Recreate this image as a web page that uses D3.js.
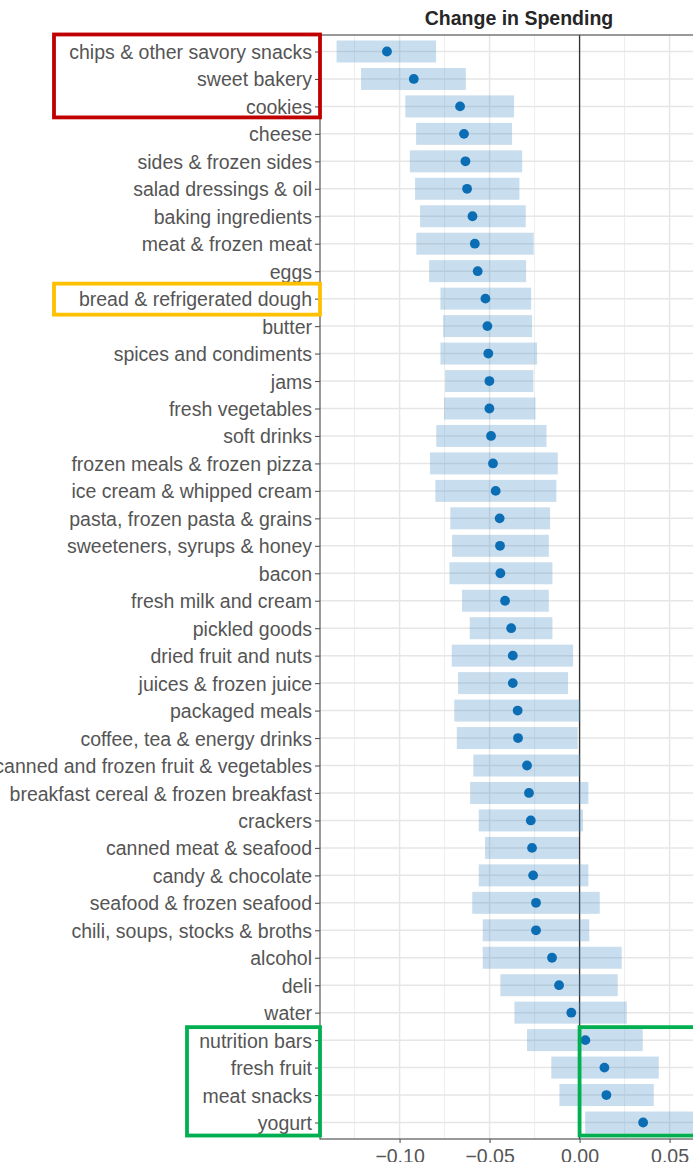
<!DOCTYPE html>
<html>
<head>
<meta charset="utf-8">
<script src="https://cdn.jsdelivr.net/npm/d3@7"></script>
<style>
  html, body { margin: 0; padding: 0; background: #fff; }
  svg { display: block; }
</style>
</head>
<body>
<svg id="chart" width="693" height="1162"></svg>
<script>
const categories = [
  "chips & other savory snacks", "sweet bakery", "cookies", "cheese",
  "sides & frozen sides", "salad dressings & oil", "baking ingredients",
  "meat & frozen meat", "eggs", "bread & refrigerated dough", "butter",
  "spices and condiments", "jams", "fresh vegetables", "soft drinks",
  "frozen meals & frozen pizza", "ice cream & whipped cream",
  "pasta, frozen pasta & grains", "sweeteners, syrups & honey", "bacon",
  "fresh milk and cream", "pickled goods", "dried fruit and nuts",
  "juices & frozen juice", "packaged meals", "coffee, tea & energy drinks",
  "canned and frozen fruit & vegetables", "breakfast cereal & frozen breakfast",
  "crackers", "canned meat & seafood", "candy & chocolate",
  "seafood & frozen seafood", "chili, soups, stocks & broths", "alcohol",
  "deli", "water", "nutrition bars", "fresh fruit", "meat snacks", "yogurt"
];
const estimate = [
  -0.107, -0.0921, -0.0664, -0.0642, -0.0634, -0.0625, -0.0595, -0.0582,
  -0.0566, -0.0523, -0.0512, -0.0507, -0.0501, -0.0501, -0.0492, -0.0481,
  -0.0466, -0.0444, -0.0442, -0.0440, -0.0414, -0.0380, -0.0371, -0.0371,
  -0.0344, -0.0342, -0.0292, -0.0281, -0.0271, -0.0264, -0.0258, -0.0242,
  -0.0242, -0.0153, -0.0114, -0.0046, 0.0032, 0.0138, 0.0149, 0.0353
];
const lower = [
  -0.135, -0.1214, -0.0968, -0.0908, -0.0943, -0.0914, -0.0886, -0.0907,
  -0.0836, -0.0773, -0.0758, -0.0773, -0.0747, -0.0753, -0.0796, -0.0831,
  -0.0801, -0.0718, -0.0708, -0.0723, -0.0653, -0.0610, -0.0710, -0.0675,
  -0.0696, -0.0682, -0.0590, -0.0608, -0.0560, -0.0525, -0.0560, -0.0596,
  -0.0538, -0.0538, -0.0440, -0.0362, -0.0292, -0.0157, -0.0112, 0.0031
];
const upper = [
  -0.0797, -0.0632, -0.0364, -0.0375, -0.0319, -0.0334, -0.0299, -0.0255,
  -0.0297, -0.0269, -0.0264, -0.0236, -0.0257, -0.0245, -0.0184, -0.0121,
  -0.0129, -0.0164, -0.0171, -0.0151, -0.0171, -0.0151, -0.0036, -0.0064,
  0.0003, -0.0010, 0.0003, 0.0049, 0.0019, -0.0003, 0.0049, 0.0112,
  0.0054, 0.0234, 0.0212, 0.0262, 0.0351, 0.0440, 0.0412, 0.0675
];
const xTicks = [-0.10, -0.05, 0.00, 0.05];
const xMinorTicks = [-0.125, -0.075, -0.025, 0.025, 0.075];
const title = "Change in Spending";

const W = 693, H = 1162;
const panel = { left: 320, top: 35, right: 718, bottom: 1139 };
const FONT = "'Liberation Sans', Arial, sans-serif";

const svg = d3.select("#chart");

const x = d3.scaleLinear().domain([-0.1442, 0.0769]).range([panel.left, panel.right]);
const y = d3.scalePoint().domain(categories).range([panel.top, panel.bottom]).padding(0.6);
const step = y.step();

svg.append("defs").append("clipPath").attr("id", "pclip")
  .append("rect")
  .attr("x", panel.left).attr("y", panel.top)
  .attr("width", panel.right - panel.left).attr("height", panel.bottom - panel.top);

const g = svg.append("g").attr("clip-path", "url(#pclip)");

// panel background
g.append("rect").attr("x", panel.left).attr("y", panel.top)
  .attr("width", panel.right - panel.left).attr("height", panel.bottom - panel.top)
  .attr("fill", "#fff");

// minor vertical grid
g.selectAll("line.vminor").data(xMinorTicks).join("line")
  .attr("x1", d => x(d)).attr("x2", d => x(d))
  .attr("y1", panel.top).attr("y2", panel.bottom)
  .attr("stroke", "#ededed").attr("stroke-width", 1);
// major vertical grid
g.selectAll("line.vmajor").data(xTicks).join("line")
  .attr("x1", d => x(d)).attr("x2", d => x(d))
  .attr("y1", panel.top).attr("y2", panel.bottom)
  .attr("stroke", "#e6e6e6").attr("stroke-width", 1.5);
// horizontal grid
g.selectAll("line.hmajor").data(categories).join("line")
  .attr("x1", panel.left).attr("x2", panel.right)
  .attr("y1", d => y(d)).attr("y2", d => y(d))
  .attr("stroke", "#e6e6e6").attr("stroke-width", 1.5);

// zero line
g.append("line")
  .attr("x1", x(0)).attr("x2", x(0))
  .attr("y1", panel.top).attr("y2", panel.bottom)
  .attr("stroke", "#333").attr("stroke-width", 1.3);

// interval bars
g.selectAll("rect.ci").data(categories).join("rect")
  .attr("class", "ci")
  .attr("x", (d, i) => x(lower[i]))
  .attr("width", (d, i) => x(upper[i]) - x(lower[i]))
  .attr("y", d => y(d) - step * 0.4)
  .attr("height", step * 0.8)
  .attr("fill", "rgb(74,144,194)")
  .attr("fill-opacity", 0.3);

// points
g.selectAll("circle.pt").data(categories).join("circle")
  .attr("cx", (d, i) => x(estimate[i]))
  .attr("cy", d => y(d))
  .attr("r", 4.9)
  .attr("fill", "#0b6db4");

// panel border
svg.append("rect").attr("x", panel.left).attr("y", panel.top)
  .attr("width", panel.right - panel.left).attr("height", panel.bottom - panel.top)
  .attr("fill", "none").attr("stroke", "#555").attr("stroke-width", 1.2);

// axes
const yAxis = svg.append("g").attr("transform", `translate(${panel.left},0)`)
  .call(d3.axisLeft(y).tickSize(5).tickPadding(3));
const xAxis = svg.append("g").attr("transform", `translate(0,${panel.bottom})`)
  .call(d3.axisBottom(x).tickValues(xTicks).tickFormat(d3.format(".2f")).tickSize(4).tickPadding(6));
[yAxis, xAxis].forEach(a => {
  a.select(".domain").remove();
  a.selectAll(".tick line").attr("stroke", "#555").attr("stroke-width", 1.1);
  a.selectAll(".tick text").attr("fill", "#555")
    .style("font-family", FONT).style("font-size", "19.5px");
});
yAxis.selectAll(".tick text").attr("dy", "0.36em");
xAxis.selectAll(".tick text").attr("dy", "0.71em");

// title
svg.append("text")
  .attr("x", (panel.left + panel.right) / 2).attr("y", 25)
  .attr("text-anchor", "middle")
  .style("font-family", FONT).style("font-size", "19.5px").style("font-weight", "bold")
  .attr("fill", "#262626")
  .text(title);

// highlight boxes
function box(x0, x1, catTop, catBot, padTop, padBot, color) {
  svg.append("rect")
    .attr("x", x0).attr("y", y(catTop) - padTop)
    .attr("width", x1 - x0).attr("height", (y(catBot) + padBot) - (y(catTop) - padTop))
    .attr("fill", "none").attr("stroke", color).attr("stroke-width", 3.8);
}
box(54, 320, categories[0], categories[2], 17, 11, "#c00000");
box(54, 320, categories[9], categories[9], 15, 16, "#ffc000");
box(187, 320, categories[36], categories[39], 13, 13, "#00b050");
box(x(0), 720, categories[36], categories[39], 13, 13, "#00b050");
</script>
</body>
</html>
